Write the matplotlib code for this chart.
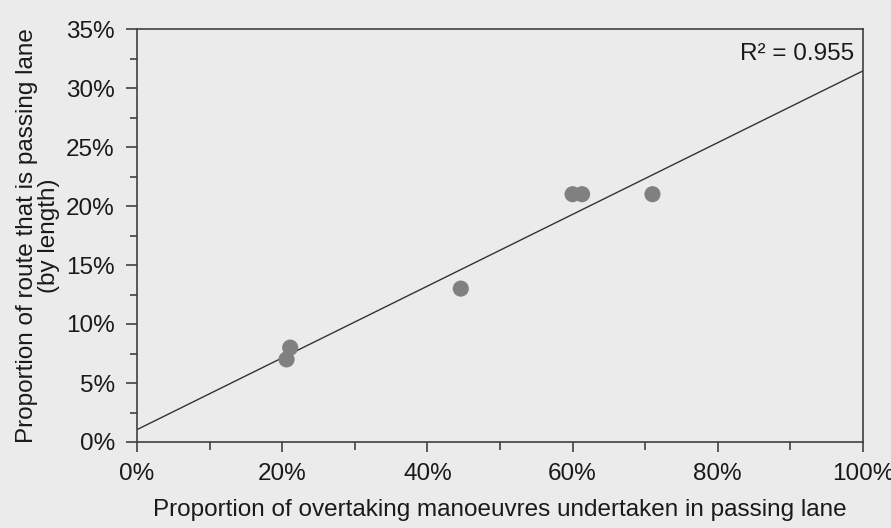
import numpy as np
import matplotlib.pyplot as plt
from matplotlib.ticker import MultipleLocator, PercentFormatter

# share of overtaking manoeuvres done in the passing lane (%)
overtaking_pct = [20.6, 21.1, 44.6, 60.0, 61.3, 71.0]
# share of route length that is passing lane (%)
passing_lane_pct = [7.0, 8.0, 13.0, 21.0, 21.0, 21.0]
r_squared_label = "R\u00b2 = 0.955"

plt.rcParams['font.family'] = ['Liberation Sans', 'DejaVu Sans']

bg = '#ebebeb'
axis_col = '#404040'
fs = 17.5

fig = plt.figure(figsize=(8.91, 5.28), dpi=100, facecolor=bg)
ax = fig.add_axes([137/891, 1 - 442/528, (863 - 137)/891, (442 - 29)/528])
ax.set_facecolor(bg)

ax.scatter(overtaking_pct, passing_lane_pct, s=135, color='#808080',
           edgecolors='none', zorder=3, clip_on=False)

# linear trendline across the whole x range
slope, intercept = np.polyfit(overtaking_pct, passing_lane_pct, 1)
xs = np.array([0, 100])
ax.plot(xs, slope * xs + intercept, color='#333333', lw=1.0, zorder=2)

ax.set_xlim(0, 100)
ax.set_ylim(0, 35)

ax.xaxis.set_major_locator(MultipleLocator(20))
ax.xaxis.set_minor_locator(MultipleLocator(10))
ax.yaxis.set_major_locator(MultipleLocator(5))
ax.yaxis.set_minor_locator(MultipleLocator(2.5))
ax.xaxis.set_major_formatter(PercentFormatter(decimals=0))
ax.yaxis.set_major_formatter(PercentFormatter(decimals=0))

ax.tick_params(axis='both', which='both', direction='out', color=axis_col,
               width=1.2, labelsize=fs, labelcolor='#1a1a1a')
ax.tick_params(axis='x', which='major', length=7, pad=8)
ax.tick_params(axis='x', which='minor', length=6)
ax.tick_params(axis='y', which='major', length=8, pad=8)
ax.tick_params(axis='y', which='minor', length=5)

for side in ['left', 'bottom', 'top', 'right']:
    ax.spines[side].set_color(axis_col)
    ax.spines[side].set_linewidth(1.2)

ax.set_xlabel("Proportion of overtaking manoeuvres undertaken in passing lane",
              fontsize=fs, color='#1a1a1a', labelpad=10)
ax.set_ylabel("Proportion of route that is passing lane\n(by length)",
              fontsize=fs, color='#1a1a1a', labelpad=4, linespacing=1.05)

ax.text(0.988, 0.965, r_squared_label, transform=ax.transAxes, ha='right',
        va='top', fontsize=fs, color='#1a1a1a')

fig.savefig('out.png', dpi=100, facecolor=bg)
